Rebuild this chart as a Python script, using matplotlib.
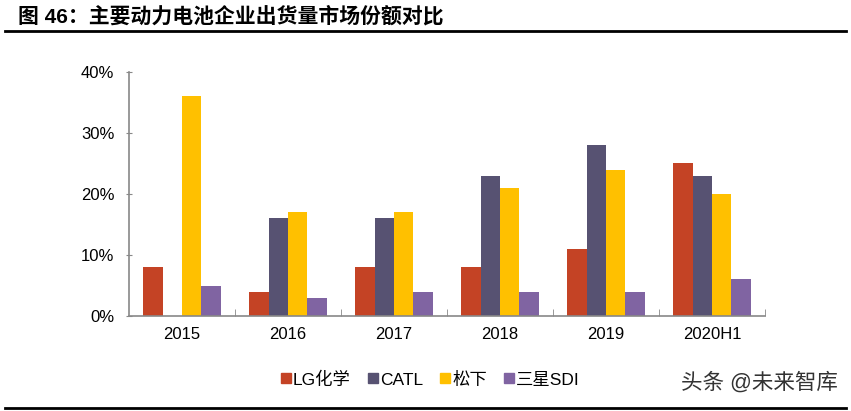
import numpy as np
import matplotlib.pyplot as plt
from matplotlib.lines import Line2D
from matplotlib.patches import Rectangle

plt.rcParams['font.family'] = ['Liberation Sans', 'Noto Sans CJK SC', 'DejaVu Sans']

# data (share of shipments, %)
categories = ["2015", "2016", "2017", "2018", "2019", "2020H1"]
series_names = ["LG化学", "CATL", "松下", "三星SDI"]
lg = [8, 4, 8, 8, 11, 25]
catl = [0, 16, 16, 23, 28, 23]
panasonic = [36, 17, 17, 21, 24, 20]
sdi = [5, 3, 4, 4, 4, 6]
colors = ["#C44325", "#575272", "#FFC000", "#8064A2"]

W, H = 851, 411
fig = plt.figure(figsize=(W / 100, H / 100), dpi=100)
ax = fig.add_axes([129 / W, 1 - 316 / H, (765 - 129) / W, (316 - 72) / H])

x = np.arange(len(categories))
w = 0.183
for i, vals in enumerate([lg, catl, panasonic, sdi]):
    ax.bar(x + (i - 1.5) * w, vals, w, color=colors[i], zorder=2)

ax.set_xlim(-0.5, len(categories) - 0.5)
ax.set_ylim(0, 40)
ax.set_yticks([0, 10, 20, 30, 40])
ax.set_yticklabels([f"{v}%" for v in [0, 10, 20, 30, 40]], fontsize=12)
ax.set_xticks(x)
ax.set_xticklabels(categories, fontsize=12)
ax.set_xticks(np.arange(len(categories)) + 0.5, minor=True)
ax.tick_params(axis='x', which='major', length=0, pad=8)
ax.tick_params(axis='x', which='minor', direction='in', length=5, color='#888888')
ax.tick_params(axis='y', direction='inout', length=5, color='#888888', pad=8)

for s in ['top', 'right']:
    ax.spines[s].set_visible(False)
for s in ['left', 'bottom']:
    ax.spines[s].set_color('#888888')
    ax.spines[s].set_linewidth(1.2)

# legend drawn by hand: small square raised to the top of the text
renderer = fig.canvas.get_renderer()
px = 281
for name, c in zip(series_names, colors):
    fig.add_artist(Rectangle((px / W, 1 - 383 / H), 10 / W, 10 / H,
                             transform=fig.transFigure, color=c))
    t = fig.text((px + 12) / W, 1 - 380 / H, name, fontsize=12.5,
                 ha='left', va='center')
    bb = t.get_window_extent(renderer)
    px = bb.x1 + 17

# title and rules
fig.text(18 / W, 1 - 16 / H, "图 46：主要动力电池企业出货量市场份额对比",
         fontsize=15, fontweight='bold', va='center', ha='left')
fig.add_artist(Line2D([5 / W, 846 / W], [1 - 31 / H] * 2, color='black', lw=2))
fig.add_artist(Line2D([5 / W, 846 / W], [1 - 408 / H] * 2, color='black', lw=2))
fig.text(838 / W, 1 - 383 / H, "头条 @未来智库", fontsize=15.5, color='#333333',
         ha='right', va='center')

fig.savefig("out.png", dpi=100)
